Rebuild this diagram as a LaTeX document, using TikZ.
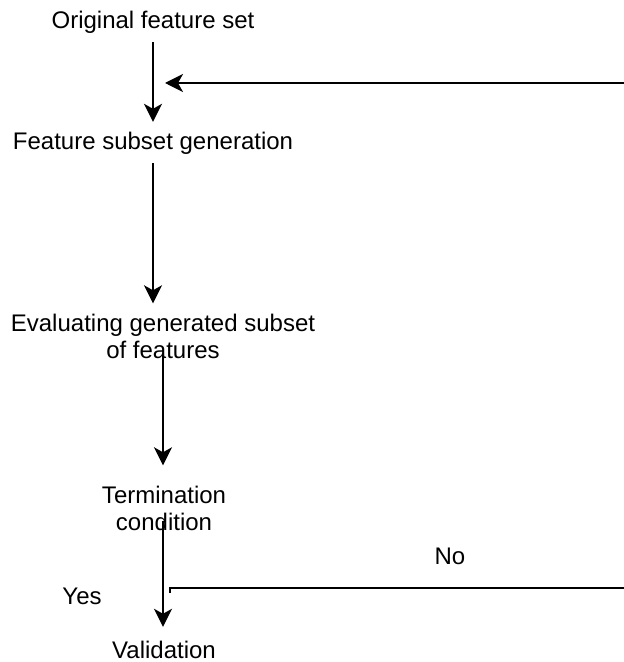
\documentclass[tikz,border=0pt]{standalone}
\usepackage{fontspec}
\setmainfont{Liberation Sans}
\usepackage{tikz}
\definecolor{white}{rgb}{1.0, 1.0, 1.0}
\definecolor{black}{rgb}{0.0, 0.0, 0.0}
\usetikzlibrary{arrows.meta}
\pgfdeclarelayer{edgelayer}
\pgfdeclarelayer{nodelayer}
\pgfsetlayers{edgelayer,nodelayer,main}
\tikzstyle{label}=[inner sep=0pt,align=center,font=\fontsize{12}{13.5}\selectfont]
\tikzstyle{flow}=[-{Stealth[length=9pt,width=9pt,inset=2.5pt]},line width=1pt,black]

\begin{document}
\begin{tikzpicture}[x=0.5pt,y=-0.5pt]
        \useasboundingbox (0, 0) rectangle (624, 662);
        \begin{pgfonlayer}{nodelayer}
            \node [style = label] (orig) at (153, 22) {Original feature set};
            \node [style = label] (gen) at (153, 143) {Feature subset generation};
            \node [style = label] (eval) at (163, 336) {Evaluating generated subset\\of features};
            \node [style = label] (term) at (164, 508) {Termination\\condition};
            \node [style = label] (valid) at (164, 650) {Validation};

            \node [style = label] (no) at (450, 556) {No};
            \node [style = label] (yes) at (82, 596) {Yes};

            \coordinate (loopin) at (624, 83);
            \coordinate (loopout) at (624, 588);
            \coordinate (tick) at (170, 593);
        \end{pgfonlayer}

        \begin{pgfonlayer}{edgelayer}
            \draw [flow, shorten <=4.4pt, shorten >=4.8pt] (orig) to (gen);
            \draw [flow, shorten >=6pt] (loopin) to (loopin -| orig);
            \draw [flow, shorten <=4.4pt, shorten >=5pt] (gen) to (gen |- eval.north);
            \draw [flow, shorten <=-1.8pt, shorten >=10pt] (eval.south) to (eval.south |- term.north);
            \draw [flow, shorten <=-5pt, shorten >=7pt] (eval.south |- term.south) to (eval.south |- valid.north);

            \draw [line width=1pt] (tick) |- (loopout);
        \end{pgfonlayer}
    \end{tikzpicture}
\end{document}
